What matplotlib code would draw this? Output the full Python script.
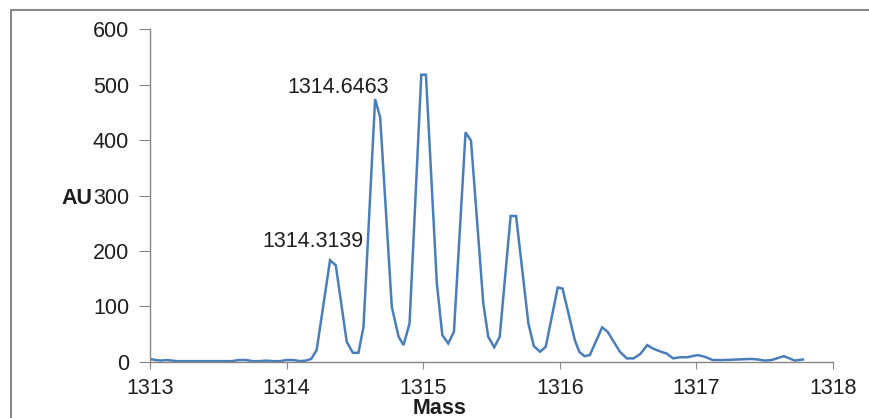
import matplotlib
matplotlib.use("Agg")
import matplotlib.pyplot as plt
from matplotlib.patches import Rectangle

mass = [1313.00, 1313.04, 1313.08, 1313.12, 1313.20, 1313.30, 1313.40, 1313.50,
        1313.60, 1313.65, 1313.70, 1313.75, 1313.80, 1313.85, 1313.90, 1313.95,
        1314.00, 1314.05, 1314.10, 1314.14, 1314.18, 1314.22, 1314.318, 1314.36,
        1314.44, 1314.485, 1314.526, 1314.563, 1314.648, 1314.685, 1314.77,
        1314.82, 1314.856, 1314.90, 1314.986, 1315.02, 1315.10, 1315.14,
        1315.183, 1315.225, 1315.31, 1315.35, 1315.44, 1315.476, 1315.52,
        1315.56, 1315.64, 1315.68, 1315.77, 1315.81, 1315.856, 1315.897,
        1315.985, 1316.02, 1316.11, 1316.142, 1316.18, 1316.22, 1316.31,
        1316.35, 1316.44, 1316.49, 1316.54, 1316.59, 1316.64, 1316.68,
        1316.74, 1316.78, 1316.83, 1316.88, 1316.93, 1317.01, 1317.06,
        1317.12, 1317.20, 1317.30, 1317.40, 1317.45, 1317.50, 1317.55,
        1317.64, 1317.68, 1317.72, 1317.78]
au = [5, 3, 2, 3, 1, 1, 1, 1,
      1, 3, 3, 1, 1, 2, 1, 1,
      3, 3, 1, 2, 5, 21, 183, 174,
      36, 16, 16, 63, 474, 441, 99,
      45, 30, 69, 518, 518, 141, 48,
      33, 54, 414, 399, 105, 45, 26,
      45, 263, 263, 69, 28, 18, 27,
      134, 132, 39, 18, 10, 12, 62,
      54, 18, 6, 6, 14, 30, 24,
      18, 15, 6, 8, 8, 12, 9,
      3, 3, 4, 5, 4, 2, 3,
      10, 6, 2, 4]

peak_labels = ["1314.6463", "1314.3139"]
peak_label_x = [1314.005, 1313.82]
peak_label_y = [495, 217]

xticks = [1313, 1314, 1315, 1316, 1317, 1318]
yticks = [0, 100, 200, 300, 400, 500, 600]

plt.rcParams['font.family'] = ['Liberation Sans', 'DejaVu Sans']
FS = 15.5
TXT = '#1e1e1e'

fig = plt.figure(figsize=(8.69, 4.18), dpi=100)
ax = fig.add_axes([150/869, 56.3/418, (833-150)/869, (361.7-29.3)/418])

ax.plot(mass, au, color='#4A7EBB', lw=1.8, solid_joinstyle='miter')

ax.set_xlim(1313, 1318)
ax.set_ylim(0, 600)
ax.set_xticks(xticks)
ax.set_yticks(yticks)
ax.set_xticklabels([str(t) for t in xticks])
ax.set_yticklabels([str(t) for t in yticks])

for s in ['top', 'right']:
    ax.spines[s].set_visible(False)
for s in ['left', 'bottom']:
    ax.spines[s].set_color('#868686')
    ax.spines[s].set_linewidth(1.0)
ax.tick_params(axis='both', direction='out', color='#868686',
               labelsize=FS, labelcolor=TXT)
ax.tick_params(axis='x', length=5, pad=7)
ax.tick_params(axis='y', length=8, pad=7)

for lab, lx, ly in zip(peak_labels, peak_label_x, peak_label_y):
    ax.text(lx, ly, lab, ha='left', va='center', fontsize=FS, color=TXT)

fig.text(77/869, 1 - 199/418, 'AU', ha='center', va='center',
         fontsize=FS, fontweight='bold', color=TXT)
fig.text(440/869, 1 - 409/418, 'Mass', ha='center', va='center',
         fontsize=FS, fontweight='bold', color=TXT)

fig.patches.append(Rectangle((11/869, -20/418), 900/869, (408+20)/418,
                             transform=fig.transFigure, fill=False,
                             edgecolor='#888888', lw=1.5))

fig.savefig('out.png', dpi=100)
